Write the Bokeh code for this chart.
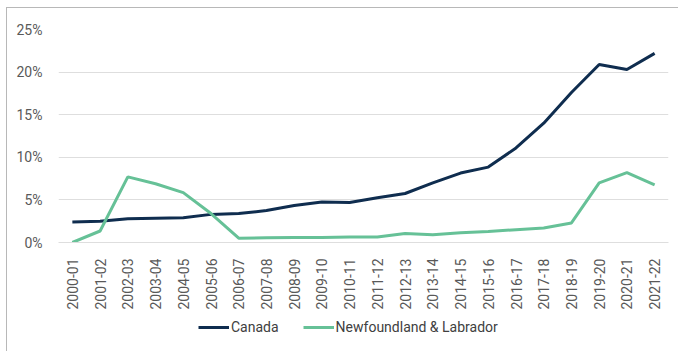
from bokeh.plotting import figure
from bokeh.layouts import column
from bokeh.models import FactorRange, Range1d, FixedTicker, PrintfTickFormatter, Legend, LegendItem
from bokeh.embed import file_html
from bokeh.resources import INLINE

years = ["2000-01", "2001-02", "2002-03", "2003-04", "2004-05", "2005-06", "2006-07",
         "2007-08", "2008-09", "2009-10", "2010-11", "2011-12", "2012-13", "2013-14",
         "2014-15", "2015-16", "2016-17", "2017-18", "2018-19", "2019-20", "2020-21", "2021-22"]
canada = [2.4, 2.5, 2.8, 2.85, 2.9, 3.3, 3.4, 3.75, 4.35, 4.75, 4.7, 5.25, 5.75, 7.0,
          8.15, 8.85, 11.1, 14.0, 17.6, 20.9, 20.3, 22.2]
nl = [0.0, 1.35, 7.7, 6.9, 5.85, 3.4, 0.5, 0.55, 0.6, 0.6, 0.65, 0.65, 1.05, 0.9,
      1.15, 1.3, 1.5, 1.7, 2.3, 7.0, 8.2, 6.75]
y_ticks = [0, 5, 10, 15, 20, 25]
series_names = ["Canada", "Newfoundland & Labrador"]
colors = ["#0f2d4f", "#66c197"]

p = figure(width=671, height=304, x_range=FactorRange(*years, range_padding=0),
           y_range=Range1d(0, 25), output_backend="svg", toolbar_location=None,
           min_border_left=51, min_border_right=10, min_border_top=21, min_border_bottom=70)
p.outline_line_color = None
p.background_fill_color = "white"
p.border_fill_color = "white"

p.xgrid.grid_line_color = None
p.ygrid.grid_line_color = "#dedede"
p.ygrid.grid_line_width = 1

p.yaxis.ticker = FixedTicker(ticks=y_ticks)
p.yaxis.formatter = PrintfTickFormatter(format="%d%%")
p.yaxis.axis_line_color = None
p.yaxis.major_tick_line_color = None
p.yaxis.minor_tick_line_color = None
p.yaxis.major_label_text_font = "Roboto"
p.yaxis.major_label_text_font_size = "14px"
p.yaxis.major_label_text_color = "#595959"
p.yaxis.major_label_standoff = 10

p.xaxis.axis_line_color = "#dedede"
p.xaxis.major_tick_line_color = None
p.xaxis.minor_tick_line_color = None
p.xaxis.major_label_orientation = 1.5708
p.xaxis.major_label_text_font = "Roboto"
p.xaxis.major_label_text_font_size = "14px"
p.xaxis.major_label_text_color = "#595959"
p.xaxis.major_label_standoff = 10

p.line(years, canada, line_color=colors[0], line_width=3)
p.line(years, nl, line_color=colors[1], line_width=3)

# legend strip below the chart
p2 = figure(width=671, height=39, x_range=Range1d(0, 1), y_range=Range1d(0, 1),
            output_backend="svg", toolbar_location=None,
            x_axis_location=None, y_axis_location=None,
            min_border_left=0, min_border_right=0, min_border_top=0, min_border_bottom=0)
p2.outline_line_color = None
p2.xgrid.grid_line_color = None
p2.ygrid.grid_line_color = None
k1 = p2.line([5, 6], [5, 6], line_color=colors[0], line_width=3)
k2 = p2.line([5, 6], [5, 6], line_color=colors[1], line_width=3)
legend = Legend(items=[LegendItem(label=series_names[0], renderers=[k1]),
                       LegendItem(label=series_names[1], renderers=[k2])],
                orientation="horizontal", location=(140, 14),
                label_text_font="Roboto", label_text_font_size="14px",
                label_text_color="#404040", glyph_width=31, glyph_height=20,
                label_standoff=2, spacing=24, padding=0, margin=0,
                border_line_color=None, background_fill_alpha=0)
p2.add_layout(legend, "center")

layout = column(p, p2, spacing=0,
                styles={"margin-left": "6px", "margin-top": "7px",
                        "border-left": "1px solid #b8b8b8", "border-top": "1px solid #b8b8b8"})

open("out.html", "w").write(file_html(layout, INLINE))
